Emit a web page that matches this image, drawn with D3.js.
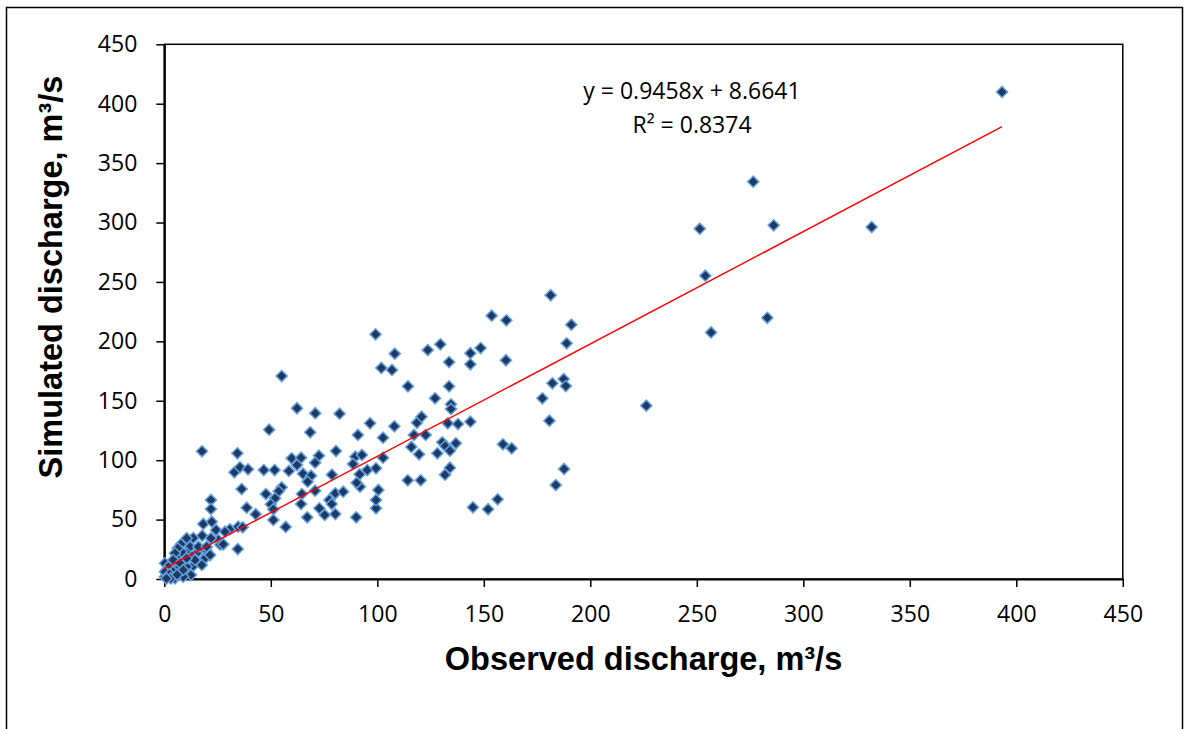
<!DOCTYPE html>
<html>
<head>
<meta charset="utf-8">
<script src="https://cdn.jsdelivr.net/npm/d3@7"></script>
<style>
  html, body { margin: 0; padding: 0; background: #fff; }
  svg { display: block; }
  .tick text { font-family: "Open Sans", sans-serif; font-size: 23px; fill: #000; }
  .title { font-family: "Liberation Sans", Arial, sans-serif; font-weight: bold; font-size: 32.5px; fill: #000; }
  .eq { font-family: "Open Sans", sans-serif; font-size: 23px; fill: #000; }
</style>
</head>
<body>
<div id="chart"></div>
<script>
const width = 1184;
const height = 729;
const margin = { top: 44.3, right: 61.2, bottom: 150, left: 164.3 };

// observed / simulated discharge, m3/s
const observed = [
  393.3, 276.5, 251.4, 286.1, 332.1, 254.0, 256.7, 283.1, 226.3, 181.4,
  191.1, 188.9, 182.2, 187.5, 188.5, 177.5, 180.8, 187.7, 183.8, 153.7,
  160.6, 99.2, 108.2, 123.7, 129.6, 143.7, 148.5, 160.4, 143.7, 133.7,
  101.9, 106.9, 55.1, 114.4, 133.7, 127.1, 134.6, 134.6, 62.3, 70.9,
  82.3, 49.2, 68.5, 96.6, 108.0, 118.6, 120.8, 133.1, 137.9, 143.7,
  90.9, 102.7, 117.2, 122.7, 116.0, 119.6, 130.5, 131.9, 136.9, 134.1,
  128.2, 159.0, 163.1, 80.6, 72.6, 59.8, 64.2, 62.3, 70.8, 89.7,
  92.8, 88.6, 102.7, 46.7, 51.8, 58.5, 65.1, 68.9, 67.3, 78.7,
  91.7, 95.3, 99.4, 114.3, 120.4, 131.8, 134.1, 55.1, 47.7, 53.7,
  52.0, 50.0, 51.2, 64.6, 70.8, 64.2, 80.3, 84.0, 77.5, 78.6,
  72.8, 75.3, 80.3, 67.1, 90.1, 99.4, 99.4, 100.5, 91.9, 90.3,
  51.2, 57.0, 144.9, 152.0, 156.5, 17.7, 34.3, 32.9, 35.5, 39.3,
  36.3, 21.9, 21.9, 38.7, 42.9, 18.3, 22.3, 17.8, 13.6, 7.8,
  12.1, 24.3, 25.4, 26.3, 30.8, 34.5, 19.9, 16.8, 15.2, 10.5,
  13.1, 13.6, 12.5, 6.6, 8.2, 5.0, 8.2, 3.5, 1.1, 5.8,
  1.9, 4.2, 0.3, 8.9, 0.3, 10.5, 6.3, 14.4, 28.5, 34.7,
  36.8, 21.9, 10.5, 16.0, 19.9, 5.0, 10.5, 27.7, 4.2, 7.4,
  1.9, 4.2, 0.3, 5.0, 8.9, 19.1, 17.6, 21.5, 2.5, 3.0,
  6.0, 1.0
];
const simulated = [
  409.9, 334.4, 294.8, 297.7, 296.2, 255.3, 207.5, 219.8, 145.9, 238.8,
  214.0, 198.4, 164.7, 168.3, 162.4, 152.1, 133.2, 92.6, 79.1, 221.6,
  217.7, 205.9, 189.6, 192.7, 197.5, 190.0, 194.4, 184.1, 180.7, 182.6,
  177.6, 175.9, 170.8, 162.2, 162.2, 152.1, 147.0, 143.1, 143.7, 139.5,
  139.1, 125.7, 123.5, 131.0, 128.5, 131.5, 136.6, 131.0, 130.4, 132.4,
  121.2, 118.9, 121.2, 121.2, 111.1, 104.9, 115.0, 111.9, 114.2, 108.0,
  105.8, 113.4, 110.0, 107.7, 103.8, 101.6, 102.1, 95.9, 97.9, 102.9,
  104.4, 96.8, 102.1, 91.7, 91.7, 90.9, 88.6, 86.9, 81.9, 87.8,
  88.1, 91.7, 93.2, 83.1, 83.1, 87.8, 93.7, 77.2, 71.5, 73.8,
  67.9, 62.9, 58.7, 71.5, 74.3, 63.1, 72.1, 73.5, 66.5, 63.1,
  59.5, 53.9, 54.7, 51.9, 51.9, 59.5, 66.5, 74.9, 77.7, 81.0,
  49.7, 43.8, 60.3, 58.7, 67.1, 107.5, 105.8, 89.8, 94.0, 92.3,
  75.7, 66.5, 58.9, 60.0, 54.5, 46.3, 48.2, 36.4, 34.5, 29.2,
  27.2, 41.2, 32.8, 28.9, 41.8, 25.2, 23.8, 25.8, 21.6, 21.6,
  19.1, 11.2, 3.4, 18.8, 23.0, 14.6, 11.8, 10.4, 7.6, 7.6,
  1.9, 1.9, 1.9, 1.9, 13.2, 10.4, 25.8, 16.0, 39.8, 44.0,
  43.5, 34.3, 34.3, 27.2, 27.2, 21.6, 17.4, 29.2, 16.0, 13.2,
  10.4, 6.1, 6.1, 0.6, 7.6, 17.4, 11.8, 20.2, 4.0, 0.5,
  3.5, 0.5
];
const xTicks = [0, 50, 100, 150, 200, 250, 300, 350, 400, 450];
const yTicks = [0, 50, 100, 150, 200, 250, 300, 350, 400, 450];

// linear trend line shown on the chart
const slope = 0.9458;
const intercept = 8.6641;
const eqText = "y = 0.9458x + 8.6641";
const r2Text = "R² = 0.8374";

const points = observed.map((d, i) => ({ obs: d, sim: simulated[i] }));

const svg = d3.select("#chart")
  .append("svg")
  .attr("width", width)
  .attr("height", height);

// outer chart frame
svg.append("rect")
  .attr("x", 6.5).attr("y", 7.5)
  .attr("width", 1176).attr("height", 760)
  .attr("fill", "none")
  .attr("stroke", "#000")
  .attr("stroke-width", 1.5);

const x = d3.scaleLinear().domain([0, 450]).range([margin.left, width - margin.right]);
const y = d3.scaleLinear().domain([0, 450]).range([height - margin.bottom, margin.top]);

// plot area box
svg.append("rect")
  .attr("x", x(0)).attr("y", y(450))
  .attr("width", x(450) - x(0)).attr("height", y(0) - y(450))
  .attr("fill", "none")
  .attr("stroke", "#000")
  .attr("stroke-width", 1.5);

// axes
svg.append("g")
  .attr("transform", `translate(0,${y(0)})`)
  .call(d3.axisBottom(x).tickValues(xTicks).tickSize(8).tickSizeOuter(0).tickPadding(19))
  .call(g => g.select(".domain").attr("stroke-width", 2.2))
  .call(g => g.selectAll(".tick line").attr("stroke-width", 1.5));

svg.append("g")
  .attr("transform", `translate(${x(0)},0)`)
  .call(d3.axisLeft(y).tickValues(yTicks).tickSize(8).tickSizeOuter(0).tickPadding(19))
  .call(g => g.select(".domain").attr("stroke-width", 2.2))
  .call(g => g.selectAll(".tick line").attr("stroke-width", 1.5));

// points (diamonds)
const diamond = d3.symbol().type(d3.symbolSquare).size(62);
svg.append("g")
  .selectAll("path")
  .data(points)
  .join("path")
  .attr("d", diamond)
  .attr("transform", d => `translate(${x(d.obs)},${y(d.sim)}) rotate(45)`)
  .attr("fill", "#1f3864")
  .attr("stroke", "#62a0dc")
  .attr("stroke-width", 1.5);

// trend line over the observed range
const [xMin, xMax] = d3.extent(observed);
svg.append("line")
  .attr("x1", x(0)).attr("y1", y(intercept))
  .attr("x2", x(xMax)).attr("y2", y(slope * xMax + intercept))
  .attr("stroke", "#ff0000")
  .attr("stroke-width", 1.4);

// equation
svg.append("text").attr("class", "eq")
  .attr("x", 692).attr("y", 99)
  .attr("text-anchor", "middle")
  .text(eqText);
svg.append("text").attr("class", "eq")
  .attr("x", 692).attr("y", 133)
  .attr("text-anchor", "middle")
  .text(r2Text);

// axis titles
svg.append("text").attr("class", "title")
  .attr("x", (x(0) + x(450)) / 2).attr("y", 670)
  .attr("text-anchor", "middle")
  .text("Observed discharge, m³/s");

svg.append("text").attr("class", "title")
  .attr("transform", "translate(62,277) rotate(-90)")
  .attr("text-anchor", "middle")
  .text("Simulated discharge, m³/s");
</script>
</body>
</html>
